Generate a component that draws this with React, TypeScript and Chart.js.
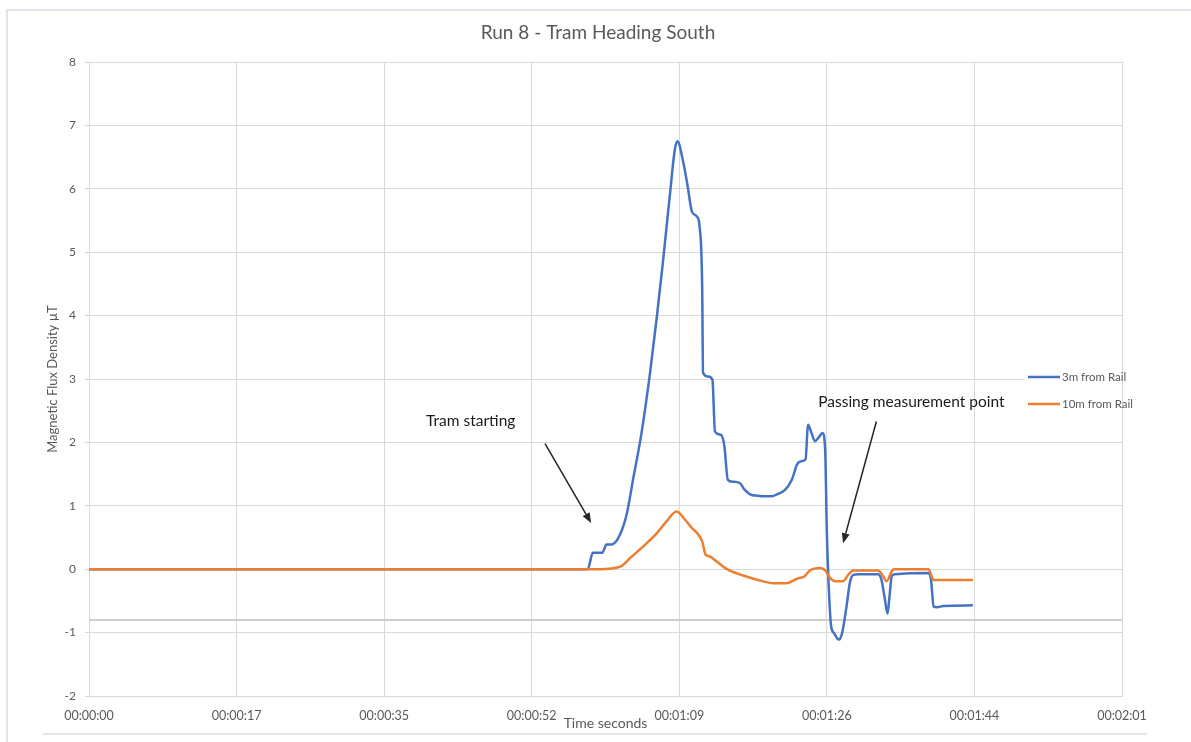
import React, { useEffect, useRef } from "react";
import { Chart, registerables } from "chart.js";

Chart.register(...registerables);

const TITLE = "Run 8 - Tram Heading South";
const X_TITLE = "Time seconds";
const Y_TITLE = "Magnetic Flux Density µT";
const LABEL_3M = "3m from Rail";
const LABEL_10M = "10m from Rail";

// x axis ticks (seconds), Excel major unit 0.0002 day
const xTickSeconds = [0, 17.28, 34.56, 51.84, 69.12, 86.4, 103.68, 120.96];
const yMin = -2;
const yMax = 8;
const yStep = 1;

// 3m from Rail
const time3m = [
  0, 58.4, 59.0, 60.1, 60.6, 61.2, 62.2, 63.0, 63.7, 64.7, 65.7, 66.5, 67.2, 68.0, 68.6, 68.9,
  69.6, 70.1, 70.6, 71.2, 71.5, 71.8, 71.9, 72.5, 73.0, 73.3, 74.0, 74.4, 74.8, 75.4, 76.2,
  76.8, 77.6, 78.3, 78.9, 79.9, 80.7, 81.5, 82.3, 82.9, 83.3, 83.9, 84.2, 84.6, 85.0, 85.4,
  85.9, 86.2, 86.4, 86.6, 86.9, 87.2, 87.8, 88.2, 88.7, 89.1, 89.5, 90.1, 92.4, 92.8, 93.2,
  93.5, 93.7, 94.0, 94.4, 98.3, 98.6, 98.9, 99.3, 100.0, 103.5,
];
const flux3m = [
  0, 0, 0.26, 0.26, 0.39, 0.39, 0.55, 0.89, 1.41, 2.15, 3.1, 3.99, 4.84, 5.88, 6.62, 6.75,
  6.41, 6.04, 5.64, 5.56, 5.4, 4.46, 3.1, 3.04, 2.99, 2.17, 2.12, 1.94, 1.41, 1.38, 1.36,
  1.25, 1.17, 1.16, 1.15, 1.15, 1.19, 1.25, 1.41, 1.65, 1.7, 1.73, 2.28, 2.15, 2.02, 2.07,
  2.15, 1.89, 0.58, -0.21, -0.9, -1.0, -1.11, -1.0, -0.59, -0.21, -0.09, -0.08, -0.08, -0.17, -0.48,
  -0.7, -0.48, -0.11, -0.08, -0.06, -0.17, -0.59, -0.6, -0.58, -0.57,
];

// 10m from Rail
const time10m = [
  0, 59.8, 62.2, 63.4, 64.9, 66.5, 67.6, 68.8, 69.8, 70.6, 71.2, 71.8, 72.2, 72.7, 73.5, 74.7,
  76.6, 78.6, 80.1, 81.7, 82.9, 83.8, 84.4, 85.6, 86.2, 86.8, 87.4, 88.3, 88.9, 89.5, 92.4,
  92.9, 93.4, 93.9, 94.2, 98.3, 98.9, 103.5,
];
const flux10m = [
  0, 0, 0.04, 0.18, 0.36, 0.57, 0.75, 0.91, 0.78, 0.65, 0.57, 0.44, 0.23, 0.2, 0.12, 0.0,
  -0.1, -0.18, -0.22, -0.22, -0.15, -0.11, -0.02, 0.02, -0.02, -0.14, -0.19, -0.19, -0.09, -0.02, -0.02,
  -0.09, -0.19, -0.06, 0.0, 0.0, -0.17, -0.17,
];

// callouts: [seconds, value]
const calloutTexts = ["Tram starting", "Passing measurement point"];
const calloutTextAt = [[44.7, 2.33], [96.3, 2.64]];
const calloutArrowFrom = [[53.4, 1.98], [92.2, 2.33]];
const calloutArrowTo = [[58.8, 0.73], [88.3, 0.41]];

const refLineValue = -0.8;

const BLUE = "#4472C4";
const ORANGE = "#ED7D31";
const GRID = "#d9d9d9";
const TEXT = "#595959";
const FONT = "Lato, 'Open Sans', sans-serif";

const fmtTime = (s: number) => {
  const r = Math.round(s);
  const hh = Math.floor(r / 3600);
  const mm = Math.floor((r % 3600) / 60);
  const ss = r % 60;
  const p = (n: number) => String(n).padStart(2, "0");
  return `${p(hh)}:${p(mm)}:${p(ss)}`;
};

const decorPlugin = {
  id: "decor",
  beforeDraw(chart: any) {
    const { ctx, width, height } = chart;
    ctx.save();
    ctx.fillStyle = "#ffffff";
    ctx.fillRect(0, 0, width, height);
    ctx.strokeStyle = "#dcdce6";
    ctx.lineWidth = 1.5;
    ctx.beginPath();
    ctx.moveTo(7, height);
    ctx.lineTo(7, 10);
    ctx.lineTo(width, 10);
    ctx.stroke();
    ctx.beginPath();
    ctx.moveTo(43, 734);
    ctx.lineTo(1147, 734);
    ctx.stroke();
    ctx.restore();
  },
  beforeDatasetsDraw(chart: any) {
    const { ctx, chartArea, scales } = chart;
    const y = scales.y.getPixelForValue(refLineValue);
    ctx.save();
    ctx.strokeStyle = "#cfcfcf";
    ctx.lineWidth = 2;
    ctx.beginPath();
    ctx.moveTo(chartArea.left, y);
    ctx.lineTo(chartArea.right, y);
    ctx.stroke();
    ctx.restore();
  },
  afterDraw(chart: any) {
    const { ctx, chartArea, scales } = chart;
    const xs = scales.x;
    const ys = scales.y;
    ctx.save();
    // title
    ctx.fillStyle = TEXT;
    ctx.font = `19px ${FONT}`;
    ctx.textAlign = "center";
    ctx.textBaseline = "middle";
    ctx.fillText(TITLE, 598, 33);

    // legend
    ctx.fillStyle = "#ffffff";
    ctx.fillRect(1025, 366, 95, 48);
    const items = chart.data.datasets;
    items.forEach((ds: any, i: number) => {
      const y = 377 + i * 27;
      ctx.strokeStyle = ds.borderColor;
      ctx.lineWidth = 2.5;
      ctx.beginPath();
      ctx.moveTo(1028, y);
      ctx.lineTo(1060, y);
      ctx.stroke();
      ctx.fillStyle = TEXT;
      ctx.font = `11.5px ${FONT}`;
      ctx.textAlign = "left";
      ctx.textBaseline = "middle";
      ctx.fillText(ds.label, 1062, y);
    });

    // callouts
    calloutTexts.forEach((t, i) => {
      const tx = xs.getPixelForValue(calloutTextAt[i][0]);
      const ty = ys.getPixelForValue(calloutTextAt[i][1]);
      ctx.fillStyle = "#1a1a1a";
      ctx.font = `15.5px ${FONT}`;
      ctx.textAlign = "center";
      ctx.textBaseline = "middle";
      ctx.fillText(t, tx, ty);
      const x1 = xs.getPixelForValue(calloutArrowFrom[i][0]);
      const y1 = ys.getPixelForValue(calloutArrowFrom[i][1]);
      const x2 = xs.getPixelForValue(calloutArrowTo[i][0]);
      const y2 = ys.getPixelForValue(calloutArrowTo[i][1]);
      const ang = Math.atan2(y2 - y1, x2 - x1);
      const hl = 10;
      const hw = 4;
      const bx = x2 - hl * Math.cos(ang);
      const by = y2 - hl * Math.sin(ang);
      ctx.strokeStyle = "#262626";
      ctx.lineWidth = 1.5;
      ctx.beginPath();
      ctx.moveTo(x1, y1);
      ctx.lineTo(bx, by);
      ctx.stroke();
      ctx.fillStyle = "#262626";
      ctx.beginPath();
      ctx.moveTo(x2, y2);
      ctx.lineTo(bx + hw * Math.sin(ang), by - hw * Math.cos(ang));
      ctx.lineTo(bx - hw * Math.sin(ang), by + hw * Math.cos(ang));
      ctx.closePath();
      ctx.fill();
    });
    ctx.restore();
  },
};

export default function App() {
  const canvasRef = useRef<HTMLCanvasElement | null>(null);

  useEffect(() => {
    const canvas = canvasRef.current;
    if (!canvas) return;
    const chart = new Chart(canvas, {
      type: "line",
      data: {
        datasets: [
          {
            label: LABEL_3M,
            data: time3m.map((t, i) => ({ x: t, y: flux3m[i] })),
            borderColor: BLUE,
            backgroundColor: BLUE,
            borderWidth: 2.5,
            pointRadius: 0,
            cubicInterpolationMode: "monotone",
            order: 1,
          },
          {
            label: LABEL_10M,
            data: time10m.map((t, i) => ({ x: t, y: flux10m[i] })),
            borderColor: ORANGE,
            backgroundColor: ORANGE,
            borderWidth: 2.5,
            pointRadius: 0,
            cubicInterpolationMode: "monotone",
            order: 0,
          },
        ],
      },
      options: {
        responsive: false,
        animation: false,
        events: [],
        layout: { padding: { top: 62, right: 69, bottom: 0, left: 0 } },
        plugins: {
          legend: { display: false },
          title: { display: false },
          tooltip: { enabled: false },
        },
        scales: {
          x: {
            type: "linear",
            min: xTickSeconds[0],
            max: xTickSeconds[xTickSeconds.length - 1],
            afterBuildTicks: (scale: any) => {
              scale.ticks = xTickSeconds.map((v) => ({ value: v }));
            },
            afterFit: (scale: any) => {
              scale.height = 46;
            },
            ticks: {
              autoSkip: false,
              maxRotation: 0,
              padding: 12,
              color: TEXT,
              font: { family: FONT, size: 12.5 },
              callback: (v: any) => fmtTime(Number(v)),
            },
            grid: { color: GRID, drawTicks: false },
            border: { color: GRID },
            title: {
              display: true,
              text: X_TITLE,
              color: TEXT,
              font: { family: FONT, size: 14 },
              padding: { top: 0, bottom: 10.5 },
            },
          },
          y: {
            type: "linear",
            min: yMin,
            max: yMax,
            afterFit: (scale: any) => {
              scale.width = 89;
            },
            ticks: {
              stepSize: yStep,
              padding: 9,
              color: TEXT,
              font: { family: FONT, size: 12 },
            },
            grid: { color: GRID, tickLength: 4 },
            border: { color: GRID },
            title: {
              display: true,
              text: Y_TITLE,
              color: TEXT,
              font: { family: FONT, size: 13 },
              padding: { top: 45, bottom: 0 },
            },
          },
        },
      },
      plugins: [decorPlugin],
    } as any);
    return () => chart.destroy();
  }, []);

  return (
    <div style={{ position: "absolute", left: 0, top: 0, width: 1191, height: 742 }}>
      <canvas ref={canvasRef} width={1191} height={742} style={{ display: "block" }} />
    </div>
  );
}
